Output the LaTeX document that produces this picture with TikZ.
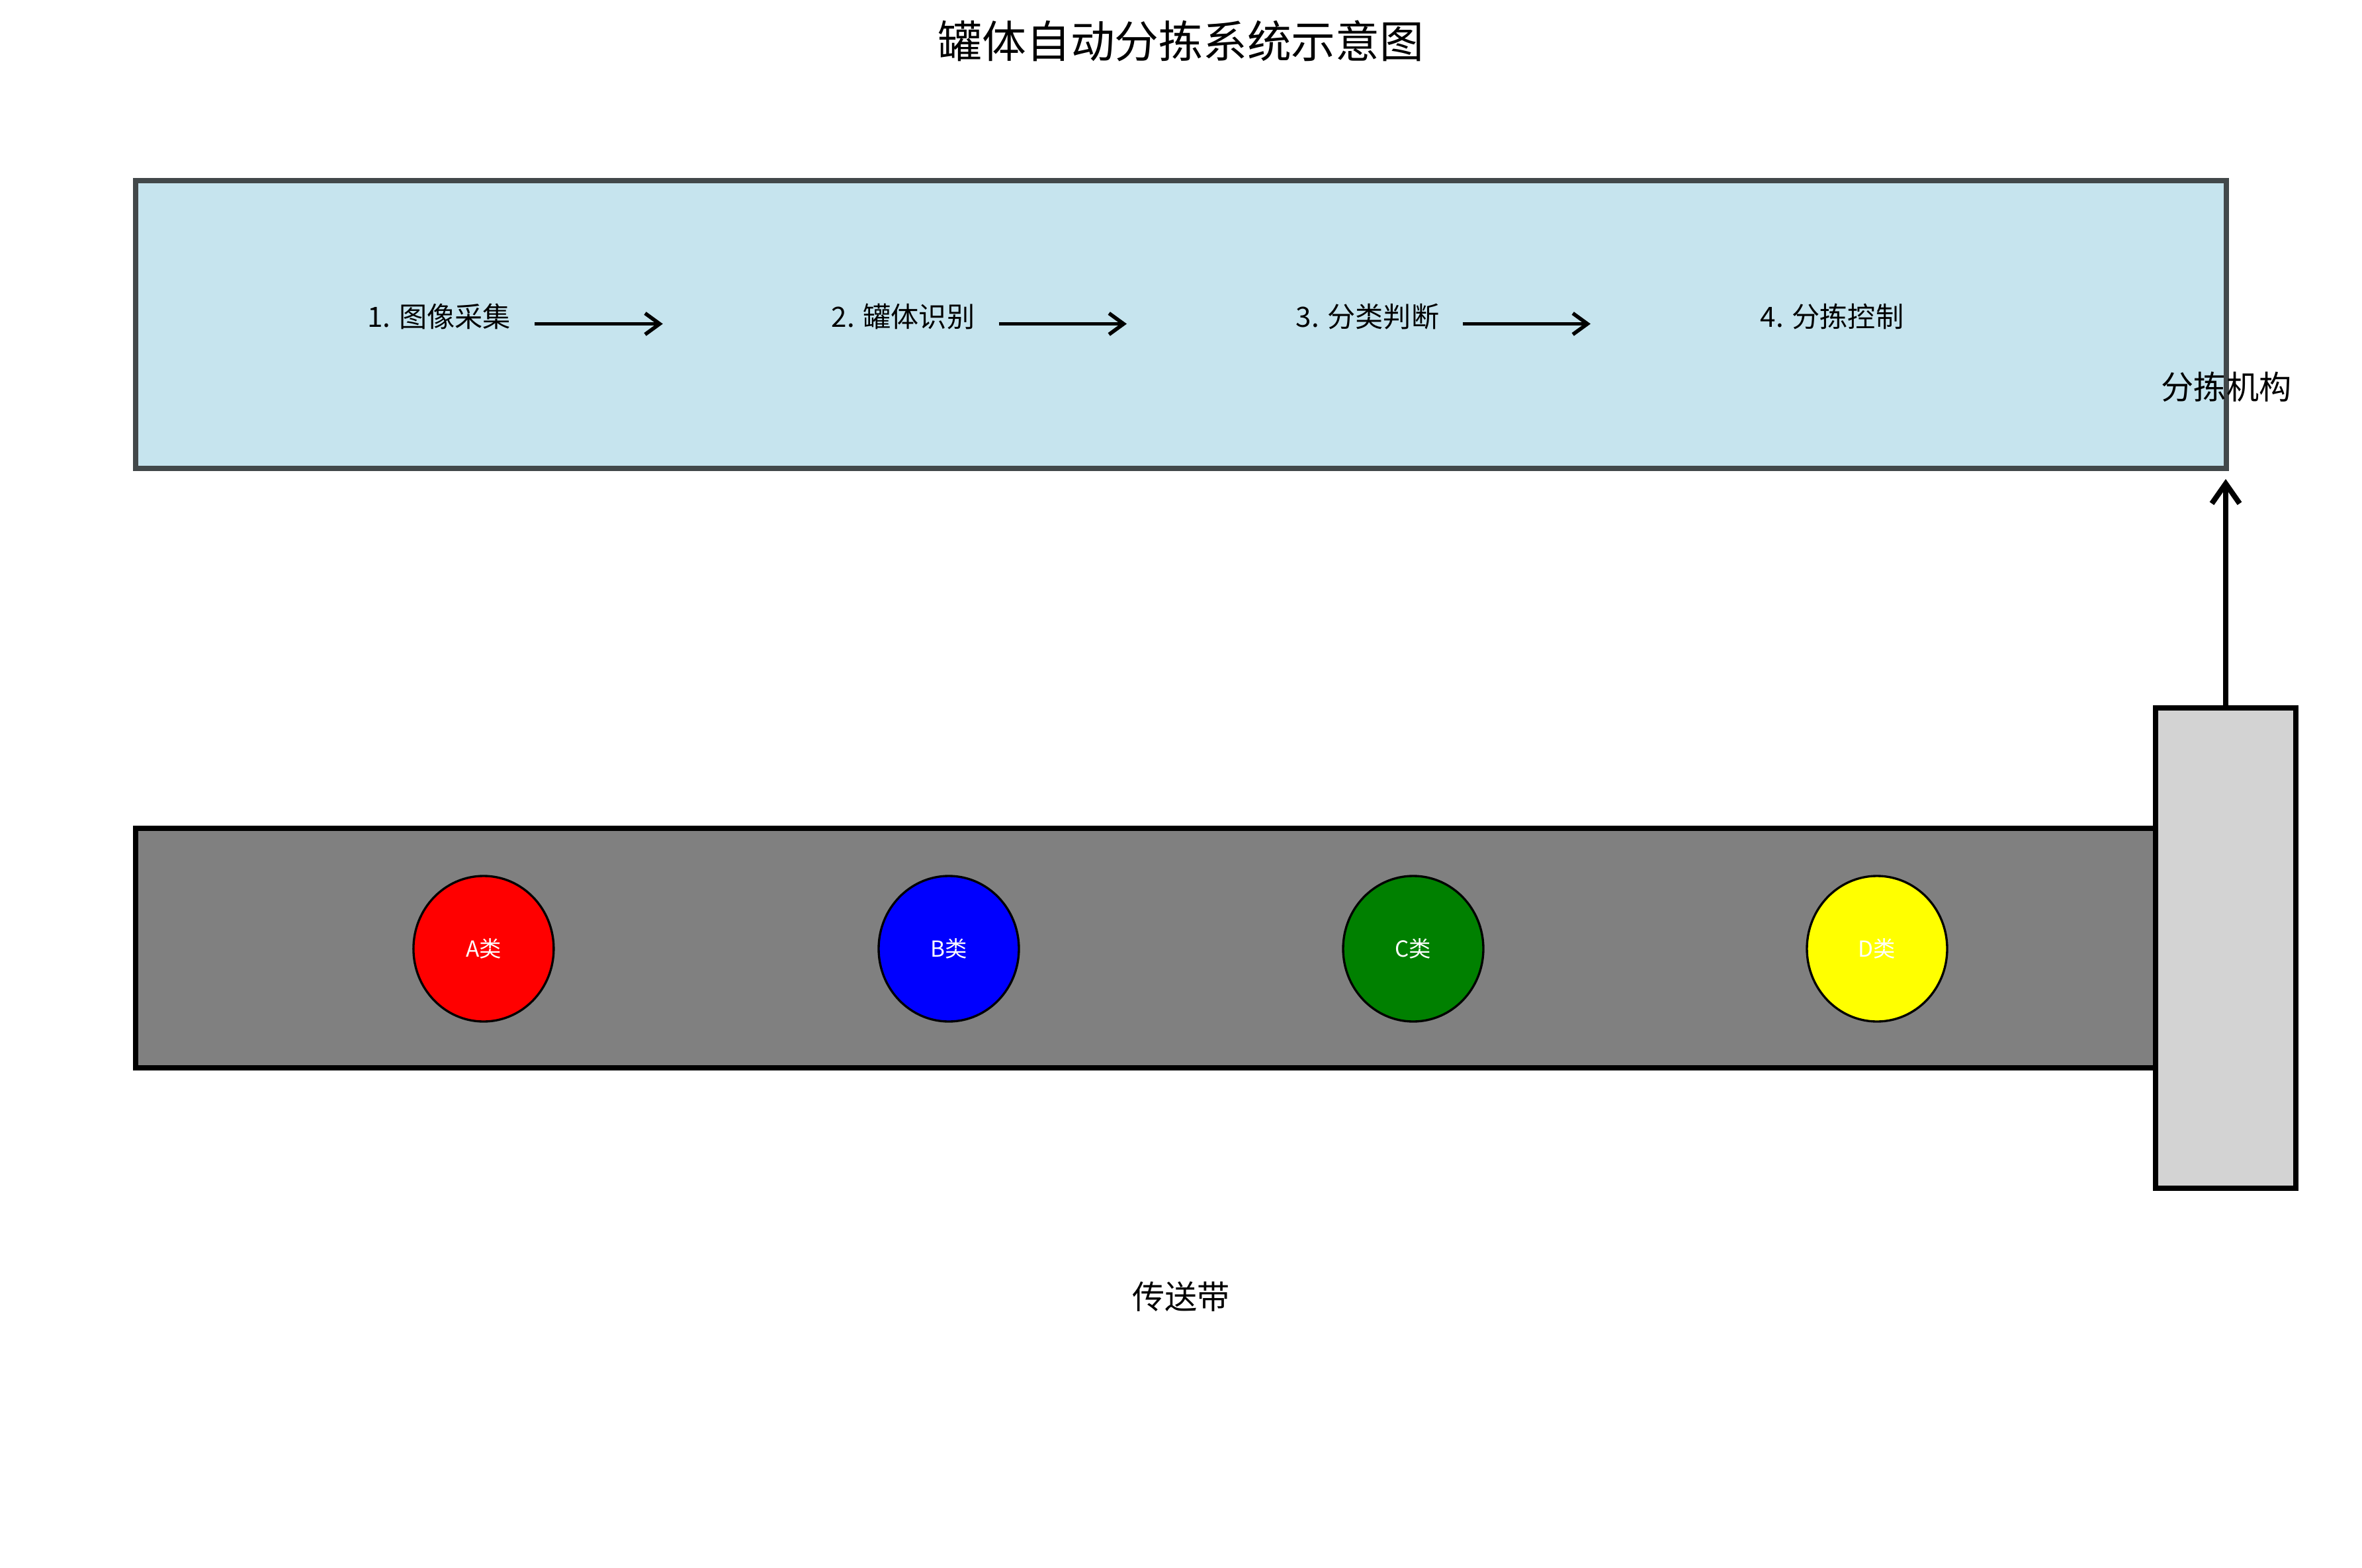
\documentclass[tikz,border=0pt]{standalone}
\usepackage{fontspec}
\setmainfont{Noto Sans CJK SC}
\usepackage{tikz}
\usetikzlibrary{arrows.meta, positioning, shapes.geometric}

\definecolor{panelblue}{RGB}{198,228,238}
\definecolor{paneledge}{RGB}{66,72,74}
\definecolor{beltgray}{RGB}{128,128,128}
\definecolor{sortgray}{RGB}{211,211,211}
\definecolor{canA}{RGB}{255,0,0}
\definecolor{canB}{RGB}{0,0,255}
\definecolor{canC}{RGB}{0,128,0}
\definecolor{canD}{RGB}{255,255,0}

\begin{document}
\begin{tikzpicture}[
		steplabel/.style={font=\fontsize{12}{14}\selectfont},
		flow/.style={-{Straight Barb[length=0.22cm, width=0.32cm]}, line width=1.6pt},
		lift/.style={-{Straight Barb[length=0.3cm, width=0.42cm]}, line width=2.3pt, line cap=round},
		can/.style={draw, line width=0.95pt, ellipse, minimum width=2.12cm, minimum height=2.2cm, inner sep=0pt, text=white, font=\fontsize{9.5}{11}\selectfont}
	]
			\useasboundingbox (0,0) rectangle (35.70,-23.70);

			% title
			\node (title) at (17.85,-0.62) {\fontsize{19}{23}\selectfont 罐体自动分拣系统示意图};

			% processing panel
			\node[draw=paneledge, fill=panelblue, line width=2.3pt, minimum width=31.60cm, minimum height=4.35cm, inner sep=0pt] (panel) at (17.85,-4.907) {};
			\node[steplabel] (s1) at (6.637,-4.781) {1. 图像采集};
			\node[steplabel] (s2) at (13.65,-4.781) {2. 罐体识别};
			\node[steplabel] (s3) at (20.67,-4.781) {3. 分类判断};
			\node[steplabel] (s4) at (27.69,-4.781) {4. 分拣控制};
			\coordinate (f1a) at (8.083,-4.895);
			\coordinate (f1b) at (10.018,-4.895);
			\coordinate (f2a) at (15.095,-4.895);
			\coordinate (f2b) at (17.03,-4.895);
			\coordinate (f3a) at (22.108,-4.895);
			\coordinate (f3b) at (24.04,-4.895);
			\draw[flow] (f1a) -- (f1b);
			\draw[flow] (f2a) -- (f2b);
			\draw[flow] (f3a) -- (f3b);

			% conveyor belt
			\node[draw, fill=beltgray, line width=2.3pt, minimum width=30.53cm, minimum height=3.62cm, inner sep=0pt] (belt) at (17.315,-14.33) {};
			\node[can, fill=canA] (ca) at (7.309,-14.34) {A类};
			\node[can, fill=canB] (cb) at (14.34,-14.34) {B类};
			\node[can, fill=canC] (cc) at (21.36,-14.34) {C类};
			\node[can, fill=canD] (cd) at (28.37,-14.34) {D类};
			\node (beltlabel) at (17.85,-19.60) {\fontsize{14}{17}\selectfont 传送带};

			% sorting unit
			\node[draw, fill=sortgray, line width=2.3pt, minimum width=2.117cm, minimum height=7.263cm, inner sep=0pt] (sorter) at (33.64,-14.33) {};
			\node (sortlabel) at (33.65,-5.851) {\fontsize{14}{17}\selectfont 分拣机构};
			\coordinate (lifttop) at (33.64,-7.24);
			\draw[lift] (sorter.north) -- (lifttop);
		\end{tikzpicture}
\end{document}
